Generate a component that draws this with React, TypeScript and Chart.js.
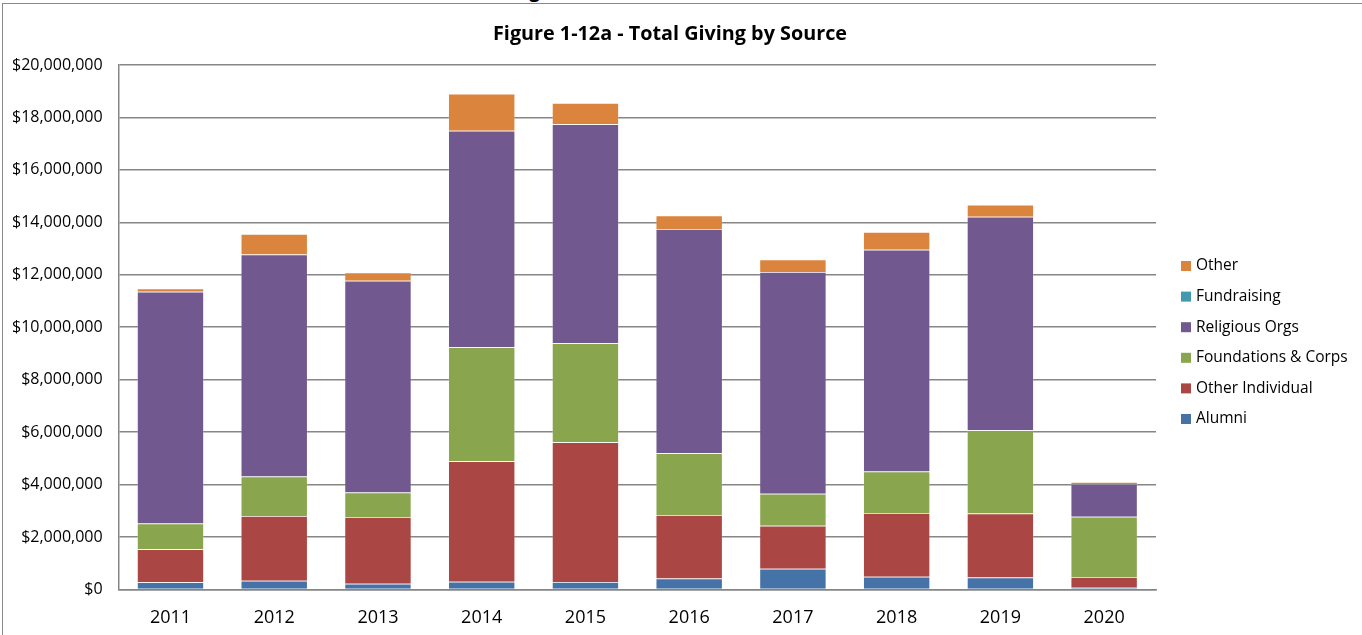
import React, { useEffect, useRef } from "react";
import { Chart, registerables } from "chart.js";

Chart.register(...registerables);

const years = ["2011", "2012", "2013", "2014", "2015", "2016", "2017", "2018", "2019", "2020"];
const alumni = [270000, 330000, 220000, 290000, 280000, 420000, 790000, 480000, 450000, 60000];
const otherIndividual = [1260000, 2470000, 2540000, 4600000, 5330000, 2420000, 1640000, 2430000, 2440000, 410000];
const foundationsCorps = [980000, 1510000, 940000, 4350000, 3780000, 2350000, 1220000, 1590000, 3180000, 2300000];
const religiousOrgs = [8840000, 8460000, 8070000, 8250000, 8350000, 8560000, 8460000, 8450000, 8140000, 1250000];
const fundraising = [0, 0, 0, 0, 0, 0, 0, 0, 0, 0];
const other = [130000, 780000, 320000, 1410000, 810000, 510000, 470000, 680000, 460000, 80000];

const titleText = "Figure 1-12a - Total Giving by Source";
const FONT = "'Open Sans', sans-serif";

const titlePlugin = {
  id: "customTitle",
  afterDraw(chart: any) {
    const ctx = chart.ctx;
    ctx.save();
    ctx.font = `bold 19.8px ${FONT}`;
    ctx.fillStyle = "#000";
    ctx.textAlign = "center";
    ctx.textBaseline = "middle";
    ctx.fillText(titleText, 670, 34);
    ctx.restore();
  },
};

const legendPlugin = {
  id: "customLegend",
  afterDraw(chart: any) {
    const ctx = chart.ctx;
    const ds = chart.data.datasets.slice().reverse();
    ctx.save();
    ctx.font = `15.5px ${FONT}`;
    ctx.textAlign = "left";
    ctx.textBaseline = "middle";
    ds.forEach((d: any, i: number) => {
      const y = 266 + i * 30.6;
      ctx.fillStyle = d.backgroundColor;
      ctx.fillRect(1181, y - 5, 10, 10);
      ctx.fillStyle = "#000";
      ctx.fillText(d.label, 1196, y);
    });
    ctx.restore();
  },
};

export default function App() {
  const ref = useRef<HTMLCanvasElement | null>(null);

  useEffect(() => {
    if (!ref.current) return;
    const mk = (label: string, data: number[], color: string) => ({
      label,
      data,
      backgroundColor: color,
      borderColor: "rgba(255,255,255,0.25)",
      borderWidth: 0.75,
      barPercentage: 0.645,
      categoryPercentage: 1,
    });
    const chart = new Chart(ref.current, {
      type: "bar",
      data: {
        labels: years,
        datasets: [
          mk("Alumni", alumni, "#4572A7"),
          mk("Other Individual", otherIndividual, "#AA4643"),
          mk("Foundations & Corps", foundationsCorps, "#89A54E"),
          mk("Religious Orgs", religiousOrgs, "#71588F"),
          mk("Fundraising", fundraising, "#4198AF"),
          mk("Other", other, "#DB843D"),
        ],
      },
      options: {
        animation: false,
        responsive: true,
        maintainAspectRatio: false,
        layout: { padding: { top: 65, left: -4, right: 206, bottom: -12 } },
        plugins: {
          title: { display: false },
          tooltip: { enabled: false },
          legend: { display: false },
        },
        scales: {
          x: {
            stacked: true,
            grid: { display: false, drawTicks: false },
            border: { display: true, color: "#868686", width: 1.5 },
            ticks: { color: "#000", padding: 18, font: { family: FONT, size: 18 } },
          },
          y: {
            stacked: true,
            min: 0,
            max: 20000000,
            grid: { color: "#868686", lineWidth: 1.5, drawTicks: false },
            border: { display: true, color: "#868686", width: 1.5 },
            ticks: {
              stepSize: 2000000,
              padding: 16,
              color: "#000",
              font: { family: FONT, size: 16 },
              callback: (v: any) => "$" + Number(v).toLocaleString("en-US"),
            },
          },
        },
      },
      plugins: [titlePlugin, legendPlugin],
    });
    return () => chart.destroy();
  }, []);

  return (
    <div style={{ position: "absolute", left: 0, top: 0, width: 1362, height: 635, background: "#fff", overflow: "hidden" }}>
      <div
        style={{
          position: "absolute",
          left: 2,
          top: 3,
          width: 1400,
          height: 700,
          borderTop: "1.5px solid #8a8a8a",
          borderLeft: "1.5px solid #8a8a8a",
        }}
      />
      <div
        style={{
          position: "absolute",
          right: 822,
          top: -23,
          fontFamily: FONT,
          fontWeight: "bold",
          fontSize: 19,
          whiteSpace: "nowrap",
        }}
      >
        Total Giving
      </div>
      <div style={{ position: "absolute", left: 0, top: 0, width: 1362, height: 635 }}>
        <canvas ref={ref} />
      </div>
    </div>
  );
}
